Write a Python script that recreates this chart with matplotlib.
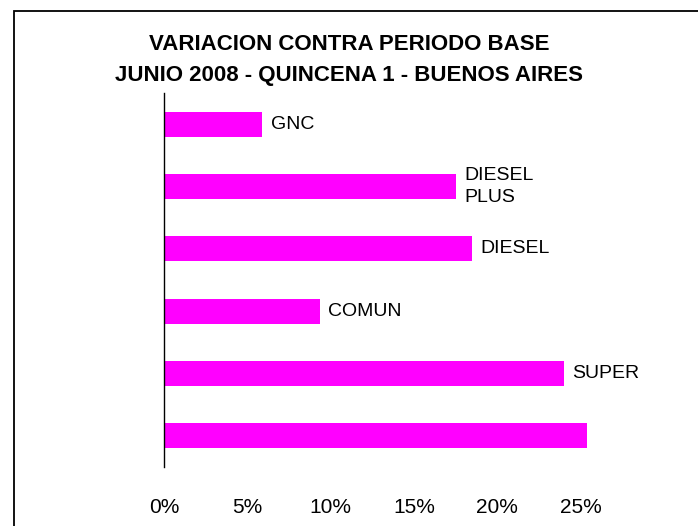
import matplotlib
matplotlib.use("Agg")
import matplotlib.pyplot as plt
from matplotlib.patches import Rectangle
from matplotlib.ticker import FuncFormatter

plt.rcParams["font.family"] = ["Liberation Sans", "DejaVu Sans"]

# bars from top to bottom
labels = ["GNC", "DIESEL\nPLUS", "DIESEL", "COMUN", "SUPER", ""]
values = [5.9, 17.5, 18.5, 9.35, 24.0, 25.35]
xticks = [0, 5, 10, 15, 20, 25]

W, H = 698, 526
fig = plt.figure(figsize=(W / 100, H / 100), dpi=100)

# outer frame (right/bottom edges fall outside the image)
fig.patches.append(Rectangle((14 / W, -0.2), 1.5, 1.2 - 11 / H,
                             transform=fig.transFigure, fill=False,
                             edgecolor="black", linewidth=1.3))

ax = fig.add_axes([164 / W, 1 - 467 / H, 500 / W, 374 / H])
ypos = list(range(len(values)))
ax.barh(ypos, values, height=0.4, color="#ff00ff")
for y, v, lab in zip(ypos, values, labels):
    if lab:
        ax.annotate(lab, (v, y), xytext=(6, 0), textcoords="offset points",
                    va="center", ha="left", fontsize=14, linespacing=1.45)

ax.set_xlim(0, 30)
ax.set_ylim(len(values) - 0.5, -0.5)
ax.set_xticks(xticks)
ax.xaxis.set_major_formatter(FuncFormatter(lambda x, p: f"{x:.0f}%"))
ax.set_yticks([])
ax.tick_params(axis="x", length=0, pad=22, labelsize=15)
for s in ["top", "right", "bottom"]:
    ax.spines[s].set_visible(False)
ax.spines["left"].set_linewidth(1.0)

fig.text(0.5, 1 - 45 / H, "VARIACION CONTRA PERIODO BASE", ha="center",
         va="center", fontsize=16, fontweight="bold")
fig.text(0.5, 1 - 76 / H, "JUNIO 2008 - QUINCENA 1 - BUENOS AIRES",
         ha="center", va="center", fontsize=16, fontweight="bold")

fig.savefig("out.png", dpi=100)
